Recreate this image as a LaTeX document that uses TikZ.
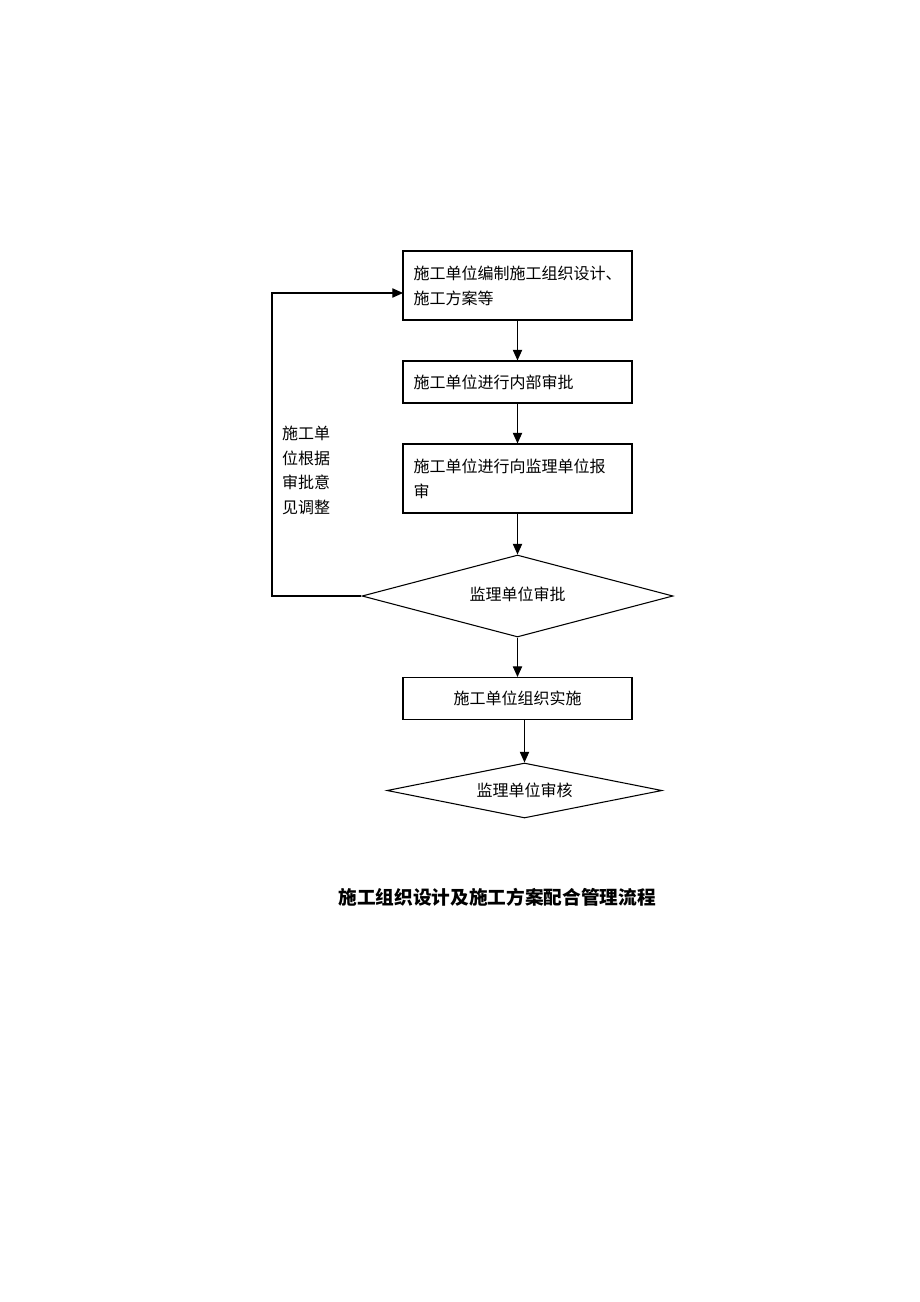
\documentclass[tikz,border=0pt]{standalone}
\usepackage{fontspec}
\setmainfont{Noto Sans CJK SC}
\usetikzlibrary{arrows.meta,shapes.geometric}

\tikzset{
  stepbox/.style={draw,line width=0.8pt,rectangle,minimum width=171.75pt,inner xsep=6pt,inner ysep=2pt,font=\fontsize{12pt}{18.75pt}\selectfont},
  checkbox/.style={draw,line width=0.8pt,diamond,inner sep=0pt,font=\fontsize{12pt}{18.75pt}\selectfont},
  flow/.style={line width=0.8pt,-{Triangle[length=8pt,width=7pt]}}
}

\begin{document}
\begin{tikzpicture}[x=0.75pt,y=0.75pt,yscale=-1,xscale=1]
  \useasboundingbox (0,0) rectangle (920,1302);

  %Shape: Rectangle [id:box1]
  \node (box1) at (517.5,285.5) [stepbox,minimum height=51.75pt,text width=156pt,align=left] {施工单位编制施工组织设计、\\施工方案等};
  %Shape: Rectangle [id:box2]
  \node (box2) at (517.5,382) [stepbox,minimum height=31.5pt,text width=156pt,align=left] {施工单位进行内部审批};
  %Shape: Rectangle [id:box3]
  \node (box3) at (517.5,478.5) [stepbox,minimum height=51.75pt,text width=156pt,align=left] {施工单位进行向监理单位报\\审};
  %Shape: Diamond [id:check1]
  \node (check1) at (517.5,596) [checkbox,minimum width=233.25pt,minimum height=61.5pt,aspect=3.8] {\raisebox{3pt}{监理单位审批}};
  %Shape: Rectangle [id:box4]
  \node (box4) at (517.5,698.5) [stepbox,minimum height=31.5pt,align=center] {施工单位组织实施};
  %Shape: Diamond [id:check2]
  \node (check2) at (524.5,790.5) [checkbox,minimum width=206.25pt,minimum height=41.25pt,aspect=5] {监理单位审核};

  %Straight Lines
  \draw [flow] (box1) -- (box2);
  \draw [flow] (box2) -- (box3);
  \draw [flow] (box3) -- (check1);
  \draw [flow] (check1) -- (box4);
  \draw [flow] (box4.south -| check2.north) -- (check2.north);

  %Feedback loop
  \coordinate (turn) at (272,596);
  \coordinate (entry) at (403,293);
  \draw [flow] (check1.west) -- (turn) |- (entry);

  % Text Node
  \node (note) at (306,470.5) [align=left,inner sep=0pt,font=\fontsize{12pt}{18.4pt}\selectfont] {施工单\\位根据\\审批意\\见调整};
  % Text Node
  \node (title) at (497,897) [inner sep=0pt,font=\fontsize{14pt}{16pt}\selectfont\bfseries] {施工组织设计及施工方案配合管理流程};

\end{tikzpicture}
\end{document}
